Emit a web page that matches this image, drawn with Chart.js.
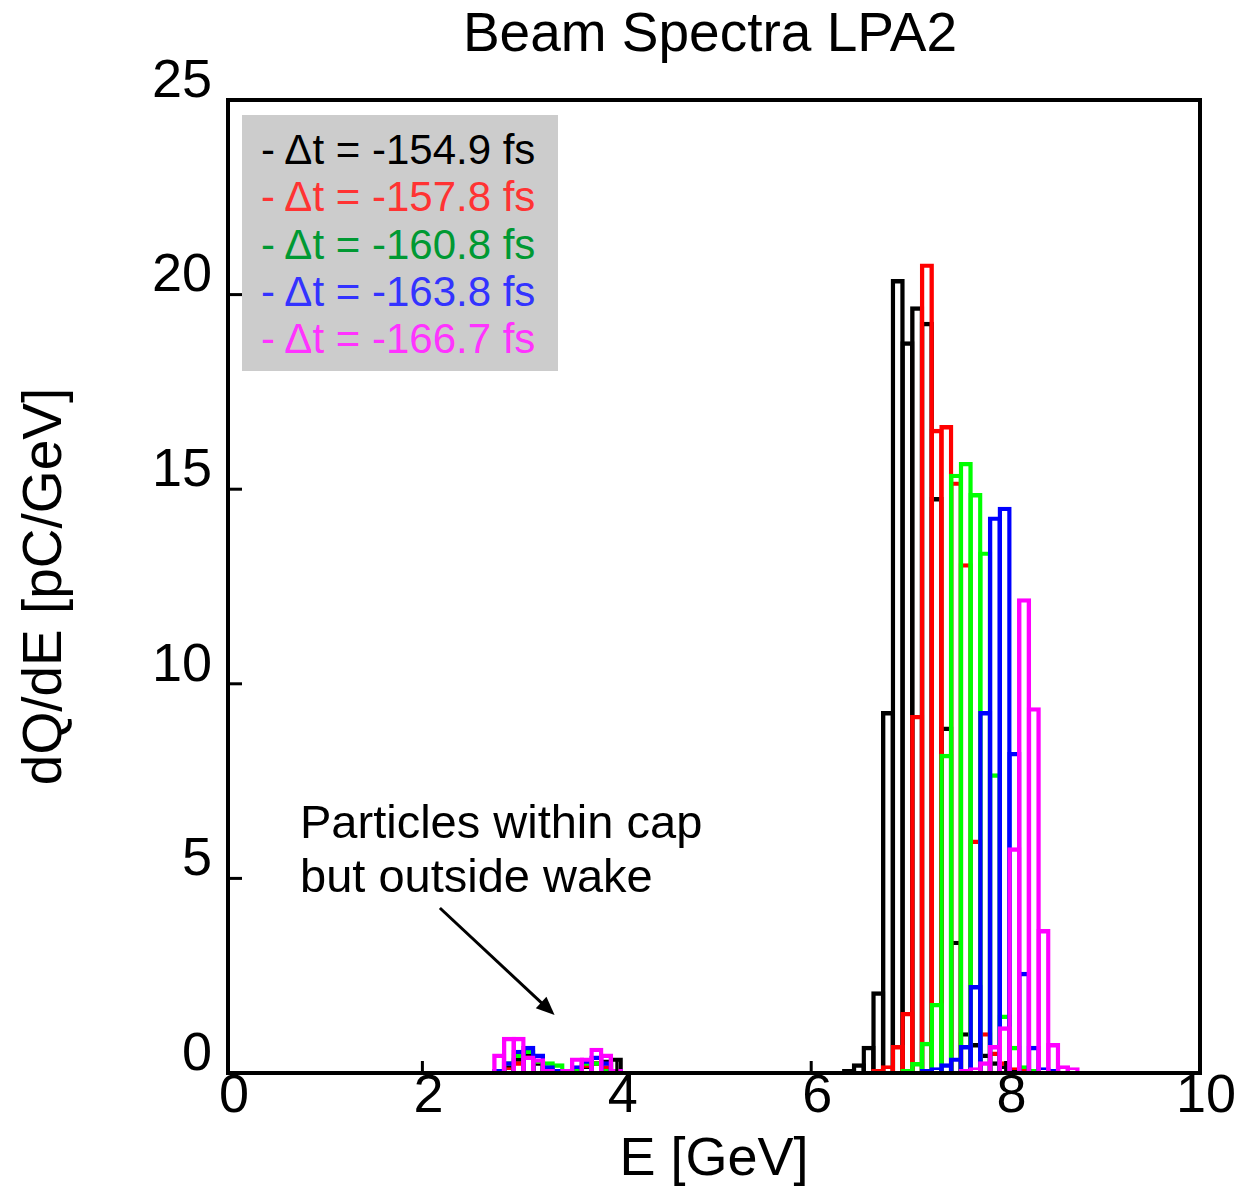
<!DOCTYPE html>
<html lang="en">
<head>
<meta charset="UTF-8">
<title>Beam Spectra LPA2</title>
<script src="https://cdn.jsdelivr.net/npm/chart.js"></script>
<style>
  body { margin: 0; background: #fff; }
  .wrap { position: relative; width: 1234px; height: 1189px; font-family: "Liberation Sans", Arial, sans-serif; }
  .legend { position: absolute; left: 242px; top: 115px; width: 316px; height: 256px; background: #cccccc;
            box-sizing: border-box; padding: 11px 0 0 19px; font-size: 42px; line-height: 47.3px; white-space: nowrap; }
  .note { position: absolute; left: 300px; top: 795px; font-size: 47px; line-height: 54px; color: #000; }
</style>
</head>
<body>
<div class="wrap">
  <canvas id="spectra"></canvas>
  <div class="legend" id="legend"></div>
  <div class="note">Particles within cap<br>but outside wake</div>
</div>

<script>
// bin left edges (GeV), bins are 0.1 GeV wide and sit a little past the round value
const binWidth = 0.1;
const binOffset = 0.04;
const lowBins  = [2.6, 2.7, 2.8, 2.9, 3.0, 3.1, 3.2, 3.3, 3.4, 3.5, 3.6, 3.7, 3.8, 3.9, 4.0];
const highBins = [6.2, 6.3, 6.4, 6.5, 6.6, 6.7, 6.8, 6.9, 7.0, 7.1, 7.2, 7.3, 7.4, 7.5,
                  7.6, 7.7, 7.8, 7.9, 8.0, 8.1, 8.2, 8.3, 8.4, 8.5, 8.6, 8.7, 8.8];

const seriesNames = ['- \u0394t = -154.9 fs', '- \u0394t = -157.8 fs', '- \u0394t = -160.8 fs',
                     '- \u0394t = -163.8 fs', '- \u0394t = -166.7 fs'];
const lineColors = ['#000000', '#ff0000', '#00ff00', '#0000ff', '#ff00ff'];
const textColors = ['#000000', '#ff3333', '#009933', '#3333ff', '#ff33ff'];

// dQ/dE [pC/GeV]
const blackLow   = [0, 0, 0.2, 0.4, 0.5, 0.3, 0.1, 0.05, 0.05, 0.1, 0.2, 0.3, 0.35, 0.4, 0.05];
const redLow     = [0, 0, 0.15, 0.3, 0.45, 0.35, 0.1, 0.1, 0.05, 0.15, 0.25, 0.3, 0.2, 0.1, 0];
const greenLow   = [0, 0.05, 0.3, 0.5, 0.6, 0.35, 0.3, 0.25, 0.1, 0.1, 0.3, 0.3, 0.1, 0.05, 0];
const blueLow    = [0, 0.1, 0.3, 0.6, 0.7, 0.5, 0.2, 0.1, 0.05, 0.2, 0.35, 0.45, 0.3, 0.1, 0];
const magentaLow = [0, 0.5, 0.93, 0.93, 0.45, 0.38, 0.1, 0.05, 0.1, 0.4, 0.4, 0.65, 0.5, 0.1, 0];

const blackHigh   = [0.05, 0.1, 0.25, 0.7, 2.1, 9.3, 20.4, 18.8, 19.7, 19.3, 14.8, 8.9, 3.4, 1.05,
                     0.77, 0.5, 0.3, 0.2, 0.1, 0, 0, 0, 0, 0, 0, 0, 0];
const redHigh     = [0, 0, 0.03, 0.05, 0.1, 0.2, 0.72, 1.57, 9.2, 20.8, 16.55, 16.65, 15.2, 13.1,
                     6.0, 1.05, 0.55, 0.3, 0.15, 0.1, 0.05, 0, 0, 0, 0, 0, 0];
const greenHigh   = [0, 0, 0, 0, 0, 0, 0.05, 0.1, 0.28, 0.8, 1.8, 8.2, 15.4, 15.7,
                     14.9, 13.4, 7.7, 1.5, 0.7, 0.2, 0.1, 0.05, 0, 0, 0, 0, 0];
const blueHigh    = [0, 0, 0, 0, 0, 0, 0, 0, 0.05, 0.1, 0.15, 0.25, 0.4, 0.72,
                     2.26, 9.3, 14.3, 14.55, 8.25, 2.6, 0.7, 0.15, 0.1, 0, 0, 0, 0];
const magentaHigh = [0, 0, 0, 0, 0, 0, 0, 0, 0, 0, 0, 0.05, 0.05, 0.1,
                     0.15, 0.3, 0.72, 1.2, 5.8, 12.2, 9.4, 3.7, 0.77, 0.2, 0.15, 0.05, 0];

const xTicks = [0, 2, 4, 6, 8, 10];
const yTicks = [0, 5, 10, 15, 20, 25];

// annotation arrow, in data units (E, dQ/dE)
const arrowFrom = [2.18, 4.24];
const arrowTo   = [3.36, 1.49];

function binCenter(e) {
    return Math.round((e + binOffset + binWidth / 2) * 100) / 100;
}

function toPoints(low, high) {
    const pts = [];
    lowBins.forEach((e, i) => {
        if (low[i] > 0) pts.push({ x: binCenter(e), y: low[i] });
    });
    highBins.forEach((e, i) => {
        if (high[i] > 0) pts.push({ x: binCenter(e), y: high[i] });
    });
    return pts;
}

const lows = [blackLow, redLow, greenLow, blueLow, magentaLow];
const highs = [blackHigh, redHigh, greenHigh, blueHigh, magentaHigh];

const datasets = seriesNames.map((name, i) => ({
    label: name,
    data: toPoints(lows[i], highs[i]),
    backgroundColor: 'rgba(0,0,0,0)',
    borderColor: lineColors[i],
    borderWidth: 4.4,
    borderSkipped: 'start',
    grouped: false,
    categoryPercentage: 1,
    barPercentage: 1.45,
    order: seriesNames.length - i   // magenta on top
}));

// legend box
const legendBox = document.getElementById('legend');
seriesNames.forEach((name, i) => {
    const row = document.createElement('div');
    row.textContent = name;
    row.style.color = textColors[i];
    legendBox.appendChild(row);
});

const FONT = '"Liberation Sans", Arial, sans-serif';

const framePlugin = {
    id: 'frame',
    afterDatasetsDraw(chart) {
        const { ctx, chartArea: a, scales: { x, y } } = chart;
        ctx.save();
        ctx.strokeStyle = '#000';
        ctx.lineWidth = 4;
        ctx.strokeRect(a.left, a.top, a.right - a.left, a.bottom - a.top);

        // inward ticks
        ctx.lineWidth = 3;
        xTicks.forEach(v => {
            const px = x.getPixelForValue(v);
            ctx.beginPath();
            ctx.moveTo(px, a.bottom);
            ctx.lineTo(px, a.bottom - 12);
            ctx.stroke();
        });
        yTicks.forEach(v => {
            const py = y.getPixelForValue(v);
            ctx.beginPath();
            ctx.moveTo(a.left, py);
            ctx.lineTo(a.left + 14, py);
            ctx.stroke();
        });

        // arrow
        const x0 = x.getPixelForValue(arrowFrom[0]), y0 = y.getPixelForValue(arrowFrom[1]);
        const x1 = x.getPixelForValue(arrowTo[0]), y1 = y.getPixelForValue(arrowTo[1]);
        const ang = Math.atan2(y1 - y0, x1 - x0);
        const head = 20;
        ctx.lineWidth = 3;
        ctx.beginPath();
        ctx.moveTo(x0, y0);
        ctx.lineTo(x1 - Math.cos(ang) * head * 0.8, y1 - Math.sin(ang) * head * 0.8);
        ctx.stroke();
        ctx.fillStyle = '#000';
        ctx.beginPath();
        ctx.moveTo(x1, y1);
        ctx.lineTo(x1 - head * Math.cos(ang - 0.4), y1 - head * Math.sin(ang - 0.4));
        ctx.lineTo(x1 - head * Math.cos(ang + 0.4), y1 - head * Math.sin(ang + 0.4));
        ctx.closePath();
        ctx.fill();

        // title centred over the plot area
        ctx.font = '55px ' + FONT;
        ctx.textAlign = 'center';
        ctx.textBaseline = 'middle';
        ctx.fillText('Beam Spectra LPA2', (a.left + a.right) / 2 - 4, 36);
        ctx.restore();
    }
};

Chart.defaults.font.family = FONT;
Chart.defaults.color = '#000';

new Chart(document.getElementById('spectra'), {
    type: 'bar',
    data: { datasets: datasets },
    options: {
        responsive: true,
        maintainAspectRatio: false,
        animation: false,
        layout: { padding: { top: 100, right: 34, left: 0, bottom: 0 } },
        plugins: {
            legend: { display: false },
            tooltip: { enabled: false },
            title: { display: false }
        },
        scales: {
            x: {
                type: 'linear',
                min: 0,
                max: 10,
                offset: false,
                grid: { display: false, drawTicks: false },
                border: { display: false },
                ticks: { stepSize: 2, padding: -3, labelOffset: 6, maxRotation: 0,
                         font: { size: 54, lineHeight: 1 } },
                title: { display: true, text: 'E [GeV]', font: { size: 54, lineHeight: 1 },
                         padding: { top: 0, bottom: 2 } },
                afterFit(scale) { scale.height = 116; }
            },
            y: {
                min: 0,
                max: 25,
                grid: { display: false, drawTicks: false },
                border: { display: false },
                ticks: { stepSize: 5, padding: 16, labelOffset: -18, font: { size: 54, lineHeight: 1 } },
                title: { display: true, text: 'dQ/dE [pC/GeV]', font: { size: 55, lineHeight: 1 },
                         padding: { top: 18, bottom: 0 } },
                afterFit(scale) { scale.width = 228; }
            }
        }
    },
    plugins: [framePlugin]
});
</script>
</body>
</html>
